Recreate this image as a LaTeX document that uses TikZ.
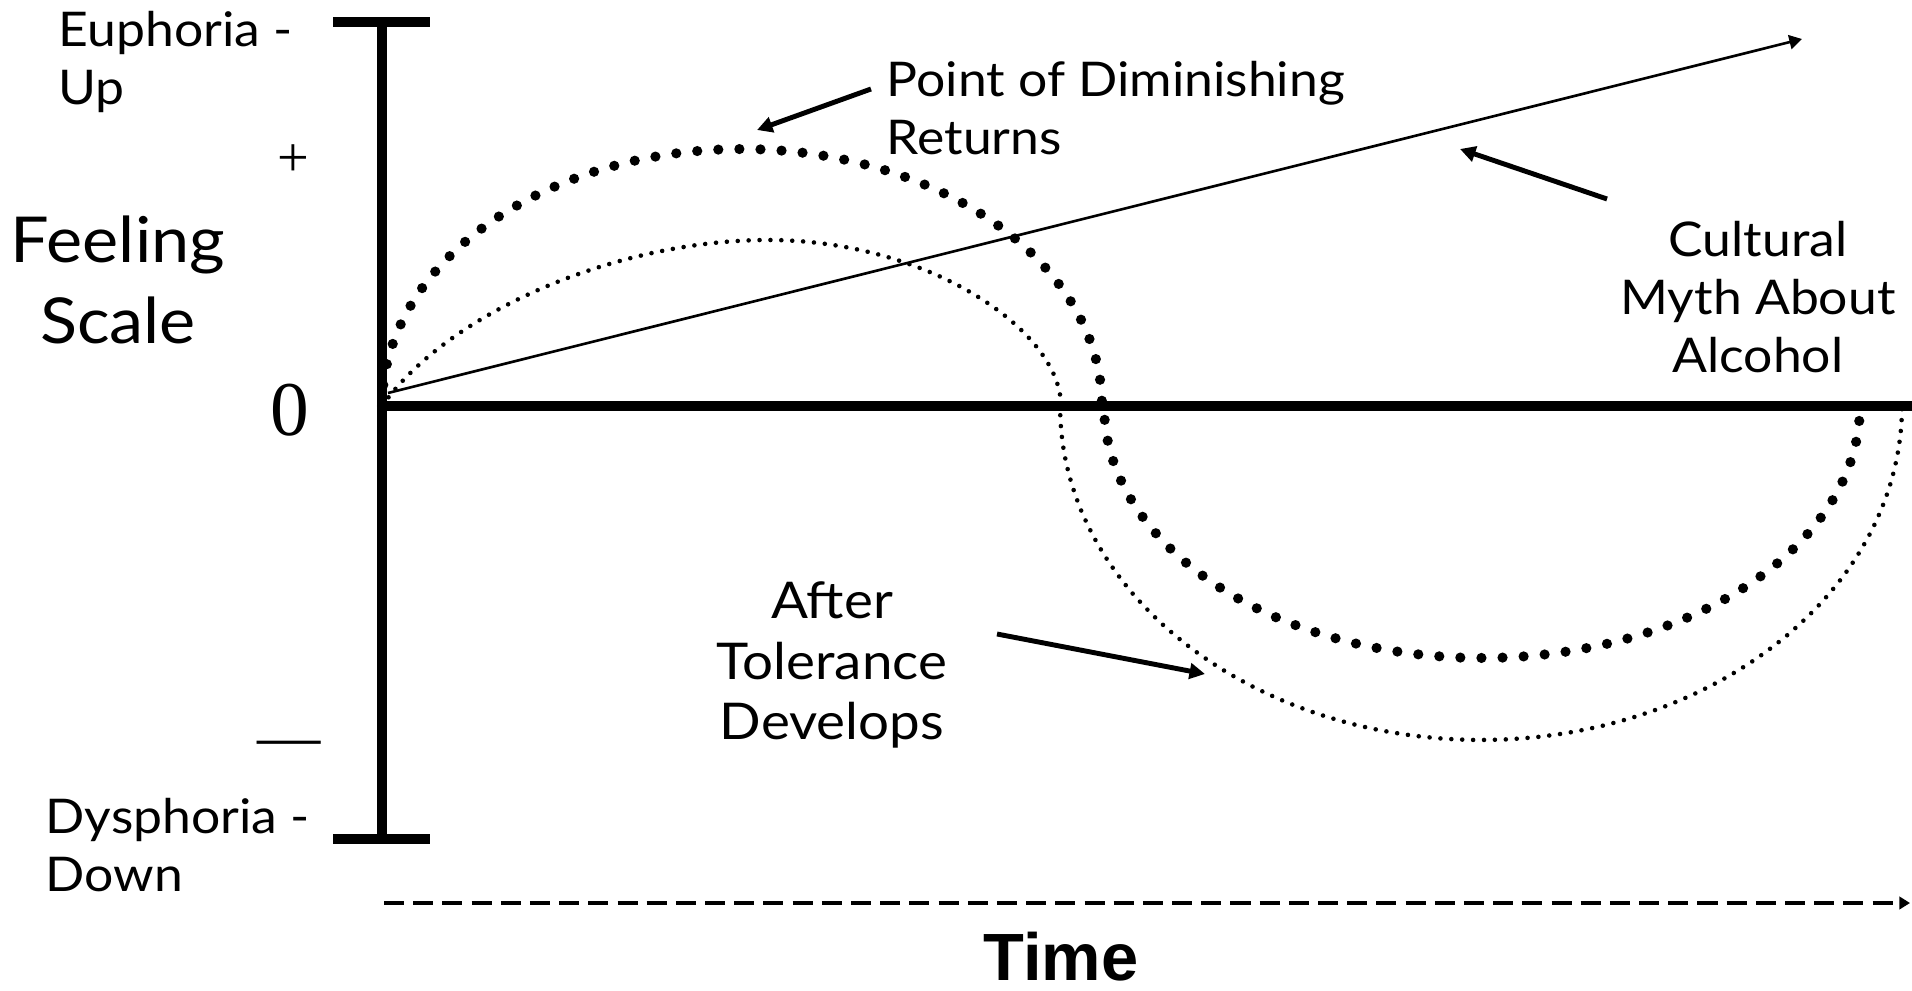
\documentclass[tikz,border=0pt]{standalone}
\usepackage{fontspec}
\setmainfont[FakeStretch=1.08]{Lato}
\newfontfamily\numfont{Liberation Serif}
\newfontfamily\timefont{Liberation Sans}
\usetikzlibrary{arrows.meta}

\begin{document}
\begin{tikzpicture}[x=0.01cm, y=-0.01cm,
    axis/.style={line width=2.9pt},
    bigdots/.style={line width=2.9pt, line cap=round, dash pattern=on 0pt off 6pt},
    smalldots/.style={line width=1.3pt, line cap=round, dash pattern=on 0pt off 3.1pt},
    pointer/.style={line width=1.4pt, -{Triangle[length=4.4pt, width=4.4pt]}},
    words/.style={font=\fontsize{13.6}{16.4}\selectfont, inner sep=0pt}]
    \useasboundingbox (0,0) rectangle (1912,991);

    % scale and time axis
    \coordinate (top) at (382,22);
    \coordinate (bottom) at (382,839);
    \coordinate (origin) at (382,406);
    \coordinate (axisend) at (1912,406);
    \draw[axis] (top) -- (bottom);
    \draw[axis] (333,22) -- (430,22);
    \draw[axis] (333,839) -- (430,839);
    \draw[axis] (origin) -- (axisend);

    \node[font=\numfont\fontsize{22}{22}\selectfont] (zero) at (290,410) {0};
    \node[font=\numfont\fontsize{16}{16}\selectfont] (plus) at (293,161) {+};
    \node[font=\numfont\fontsize{18}{18}\selectfont] (minus) at (289,749) {—};

    \node[words, anchor=west, align=left] (euphoria) at (58,62) {Euphoria -\\Up};
    \node[words, font=\fontsize{18}{22.8}\selectfont, align=center] (feeling) at (118,280) {Feeling\\Scale};
    \node[words, anchor=west, align=left] (dysphoria) at (45,845) {Dysphoria -\\Down};

    % the two curves
    \draw[bigdots] plot[domain=180:360, samples=80] ({742+360*cos(\x)}, {406+257*sin(\x)})
        -- plot[domain=180:0, samples=80] ({1482+378*cos(\x)}, {406+252*sin(\x)});
    \draw[smalldots] (origin) .. controls (450,310) and (620,240) .. (768,240)
        .. controls (929,240) and (1061,331) .. (1061,406)
        -- plot[domain=180:0, samples=80] ({1481+421*cos(\x)}, {406+334*sin(\x)});

    % myth line
    \coordinate (mythstart) at (388,393);
    \coordinate (mythend) at (1802,39);
    \draw[line width=0.75pt, -{Triangle[length=3.6pt, width=4pt]}] (mythstart) -- (mythend);

    \node[words, anchor=west, align=left] (diminishing) at (886,108) {Point of Diminishing\\Returns};
    \node[words, align=center] (myth) at (1758,297) {Cultural\\Myth About\\Alcohol};
    \node[words, font=\fontsize{14.4}{17.2}\selectfont, align=center] (tolerance) at (832,665) {After\\Tolerance\\Develops};

    \coordinate (pdrtail) at (871,89);
    \coordinate (pdrtip) at (757,130);
    \coordinate (mythtail) at (1607,199);
    \coordinate (mythtip) at (1460,149);
    \coordinate (toltail) at (997,634);
    \coordinate (toltip) at (1205,674);
    \draw[pointer] (pdrtail) -- (pdrtip);
    \draw[pointer] (mythtail) -- (mythtip);
    \draw[pointer] (toltail) -- (toltip);

    % time
    \coordinate (timestart) at (384,903);
    \coordinate (timeend) at (1910,903);
    \draw[line width=0.9pt, dash pattern=on 5.7pt off 2.6pt, -{Triangle[length=3pt, width=3.5pt]}] (timestart) -- (timeend);
    \node[font=\timefont\bfseries\fontsize{19}{19}\selectfont, anchor=base, inner sep=0pt] (time) at (1061,980) {Time};
\end{tikzpicture}
\end{document}
